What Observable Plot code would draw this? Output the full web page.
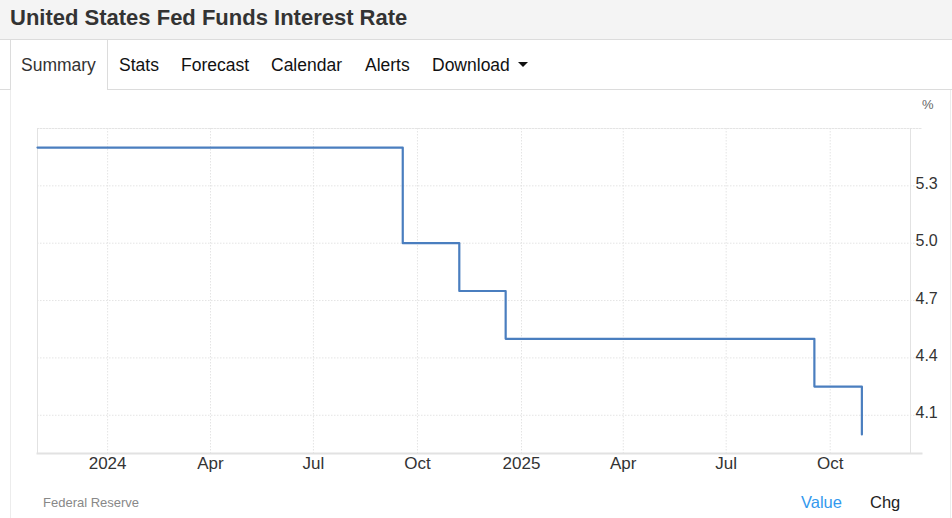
<!DOCTYPE html>
<html>
<head>
<meta charset="utf-8">
<script src="https://cdn.jsdelivr.net/npm/d3@7"></script>
<script src="https://cdn.jsdelivr.net/npm/@observablehq/plot@0.6"></script>
<style>
  html, body { margin: 0; padding: 0; background: #fff; }
  body { width: 952px; height: 518px; position: relative; overflow: hidden; font-family: Arial, "Liberation Sans", Helvetica, sans-serif; }
  .hdr { position: absolute; left: 0; top: 0; width: 952px; height: 40px; background: #f4f4f4; border-bottom: 1px solid #dcdcdc; box-sizing: border-box; }
  .title { position: absolute; left: 10px; top: 5px; font-size: 22px; font-weight: bold; color: #333; line-height: 26px; white-space: nowrap; }
  .tabline { position: absolute; top: 89px; height: 1px; background: #dcdcdc; }
  .tabactive { position: absolute; left: 10px; top: 40px; width: 98px; height: 50px; border-left: 1px solid #dcdcdc; border-right: 1px solid #dcdcdc; background: #fff; box-sizing: border-box; }
  .tab { position: absolute; top: 54px; font-size: 17.5px; color: #111; line-height: 22px; white-space: nowrap; }
  .vline { position: absolute; top: 90px; width: 1px; height: 428px; background: #ececec; }
  #chart { position: absolute; left: 0; top: 89px; }
  .pct { position: absolute; left: 922px; top: 97px; font-size: 13px; color: #666; }
  .src { position: absolute; left: 43px; top: 495px; font-size: 13px; color: #888; }
  .val { position: absolute; left: 801px; top: 493px; font-size: 16.5px; color: #3399ee; }
  .chg { position: absolute; left: 870px; top: 493px; font-size: 16.5px; color: #222; }
  .caret { position: absolute; left: 518px; top: 62px; width: 0; height: 0; border-left: 5px solid transparent; border-right: 5px solid transparent; border-top: 5px solid #111; }
</style>
</head>
<body>
<div class="hdr"><div class="title">United States Fed Funds Interest Rate</div></div>
<div class="tabline" style="left:0;width:10px"></div>
<div class="tabline" style="left:108px;width:844px"></div>
<div class="tabactive"></div>
<div class="tab" style="left:21px;color:#333">Summary</div>
<div class="tab" style="left:119px">Stats</div>
<div class="tab" style="left:181px">Forecast</div>
<div class="tab" style="left:271px">Calendar</div>
<div class="tab" style="left:365px">Alerts</div>
<div class="tab" style="left:432px">Download</div>
<div class="caret"></div>
<div class="vline" style="left:10px"></div>
<div class="vline" style="left:950px"></div>
<div id="chart"></div>
<div class="pct">%</div>
<div class="src">Federal Reserve</div>
<div class="val">Value</div>
<div class="chg">Chg</div>
<script>
// Data
const rateDates = ["2023-10-31", "2024-09-18", "2024-11-07", "2024-12-18", "2025-09-17", "2025-10-29"];
const rateValues = [5.5, 5.0, 4.75, 4.5, 4.25, 4.0];
const yTicks = [4.1, 4.4, 4.7, 5.0, 5.3];
const xTickDates = ["2024-01-01", "2024-04-01", "2024-07-01", "2024-10-01", "2025-01-01", "2025-04-01", "2025-07-01", "2025-10-01"];
const xTickLabels = ["2024", "Apr", "Jul", "Oct", "2025", "Apr", "Jul", "Oct"];
const xDomain = ["2023-10-31", "2025-12-11"];
const yDomain = [3.9, 5.6];

const data = rateDates.map((d, i) => ({date: new Date(d), rate: rateValues[i]}));
const xTicks = xTickDates.map(d => new Date(d));
const labelMap = new Map(xTicks.map((d, i) => [d.getTime(), xTickLabels[i]]));

const grid = {stroke: "#e4e4e4", strokeDasharray: "1.5,1.5", strokeWidth: 1};

const chart = Plot.plot({
  width: 952,
  height: 390,
  marginLeft: 37,
  marginRight: 42,
  marginTop: 39,
  marginBottom: 26,
  style: {fontFamily: "Arial, 'Liberation Sans', sans-serif", fontSize: "16px", color: "#333", background: "transparent", overflow: "visible"},
  x: {type: "utc", domain: xDomain.map(d => new Date(d))},
  y: {domain: yDomain},
  marks: [
    Plot.ruleX(xTicks, grid),
    Plot.ruleY(yTicks, {...grid, insetRight: -5}),
    Plot.frame({anchor: "top", ...grid, insetRight: -11}),
    Plot.frame({anchor: "left", stroke: "#e2e2e2"}),
    Plot.frame({anchor: "right", stroke: "#e2e2e2"}),
    Plot.axisX({ticks: xTicks, tickFormat: d => labelMap.get(d.getTime()), tickSize: 0, tickPadding: 3, fontSize: 17, fill: "#333", label: null}),
    Plot.axisY({anchor: "right", ticks: yTicks, tickFormat: d => d.toFixed(1), tickSize: 0, tickPadding: 5, dy: -2, fontSize: 16, fill: "#333", label: null}),
    Plot.frame({anchor: "bottom", stroke: "#e2e2e2", strokeWidth: 2, insetRight: -11}),
    Plot.line(data, {x: "date", y: "rate", curve: "step-after", stroke: "#4a7ebf", strokeWidth: 2.2})
  ]
});
document.getElementById("chart").appendChild(chart);
</script>
</body>
</html>
